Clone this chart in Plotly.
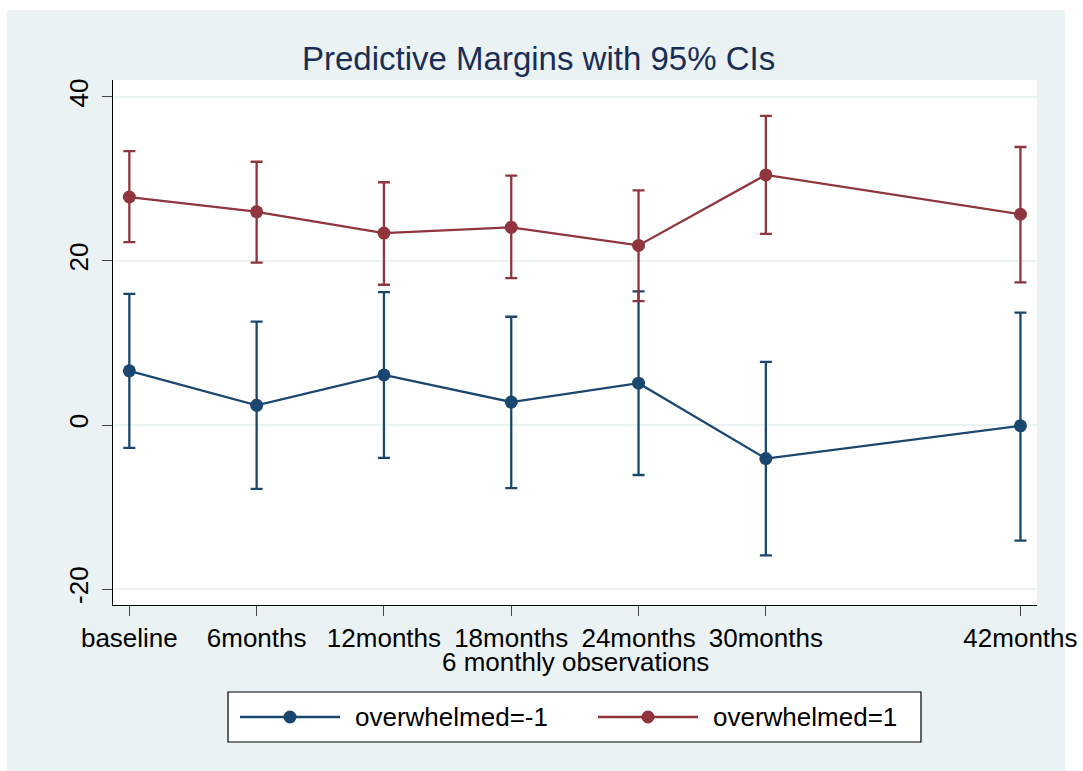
import plotly.graph_objects as go

# Observation times (months) and their tick labels
months = [0, 6, 12, 18, 24, 30, 42]
tick_labels = ["baseline", "6months", "12months", "18months", "24months", "30months", "42months"]

# Predictive margins and 95% confidence limits, overwhelmed = -1
neg_margin = [6.6, 2.4, 6.1, 2.8, 5.1, -4.1, -0.1]
neg_lower = [-2.8, -7.8, -4.0, -7.7, -6.1, -15.9, -14.1]
neg_upper = [16.0, 12.6, 16.2, 13.2, 16.3, 7.7, 13.7]

# Predictive margins and 95% confidence limits, overwhelmed = 1
pos_margin = [27.8, 26.0, 23.4, 24.1, 21.9, 30.5, 25.7]
pos_lower = [22.3, 19.8, 17.1, 17.9, 15.1, 23.3, 17.4]
pos_upper = [33.4, 32.1, 29.6, 30.4, 28.6, 37.7, 33.9]

y_ticks = [-20, 0, 20, 40]
y_tick_labels = ["-20", "0", "20", "40"]

NAVY = "#1a476f"
MAROON = "#90353b"
BLUISH = "#eaf2f3"
FONT = "Liberation Sans, Arial, sans-serif"

W, H = 1083, 771
ML, MR, MT, MB = 113, 46, 80, 166
PW, PH = W - ML - MR, H - MT - MB


def px(x):
    return (x - ML) / PW


def py(y):
    return (H - MB - y) / PH


fig = go.Figure()


def add_series(est, lo, hi, color, name):
    fig.add_trace(go.Scatter(
        x=months, y=est, name=name, mode="lines+markers",
        line=dict(color=color, width=2.3),
        marker=dict(color=color, size=13),
        error_y=dict(type="data", symmetric=False,
                     array=[h - e for h, e in zip(hi, est)],
                     arrayminus=[e - l for e, l in zip(est, lo)],
                     color=color, thickness=2.3, width=6),
        showlegend=False,
    ))


add_series(neg_margin, neg_lower, neg_upper, NAVY, "overwhelmed=-1")
add_series(pos_margin, pos_lower, pos_upper, MAROON, "overwhelmed=1")

shapes = []
# white frame around the graph region
for x0, y0, x1, y1 in [(0, 0, W, 10), (0, 0, 7, H), (1065, 0, W, H)]:
    shapes.append(dict(type="rect", xref="paper", yref="paper", layer="below",
                       x0=px(x0), x1=px(x1), y0=py(y0), y1=py(y1),
                       fillcolor="white", line=dict(width=0)))

# legend box
shapes.append(dict(type="rect", xref="paper", yref="paper",
                   x0=px(228), x1=px(921), y0=py(692), y1=py(742),
                   fillcolor="white", line=dict(color="black", width=1.2)))
annotations = []
for lx, color, label in [(240, NAVY, "overwhelmed=-1"), (598, MAROON, "overwhelmed=1")]:
    shapes.append(dict(type="line", xref="paper", yref="paper",
                       x0=px(lx), x1=px(lx + 100), y0=py(717), y1=py(717),
                       line=dict(color=color, width=2.3)))
    shapes.append(dict(type="circle", xref="paper", yref="paper",
                       xsizemode="pixel", ysizemode="pixel",
                       xanchor=px(lx + 50), yanchor=py(717),
                       x0=-6.5, x1=6.5, y0=-6.5, y1=6.5,
                       fillcolor=color, line=dict(color=color, width=0)))
    annotations.append(dict(xref="paper", yref="paper", x=px(lx + 113), y=py(717),
                            xanchor="left", yanchor="middle", showarrow=False,
                            text=label, font=dict(family=FONT, size=26, color="black")))

# title and x-axis title
annotations.append(dict(xref="paper", yref="paper", x=px(538), y=py(58),
                        xanchor="center", yanchor="middle", showarrow=False,
                        text="Predictive Margins with 95% CIs",
                        font=dict(family=FONT, size=33, color="#1a2e55")))
annotations.append(dict(xref="paper", yref="paper", x=0.5, y=py(662),
                        xanchor="center", yanchor="middle", showarrow=False,
                        text="6 monthly observations",
                        font=dict(family=FONT, size=26, color="black")))

fig.update_layout(
    width=W, height=H,
    margin=dict(l=ML, r=MR, t=MT, b=MB, autoexpand=False),
    paper_bgcolor=BLUISH, plot_bgcolor="white",
    font=dict(family=FONT, size=26, color="black"),
    shapes=shapes, annotations=annotations,
    xaxis=dict(range=[-0.77, 42.78], tickvals=months, ticktext=tick_labels,
               automargin=False,
               showgrid=False, zeroline=False, showline=True, linecolor="black",
               linewidth=1.2, ticks="outside", ticklen=10, tickcolor="#444",
               tickwidth=1.2, tickfont=dict(size=26), ticklabelstandoff=0),
    yaxis=dict(range=[-21.95, 42.07], tickvals=y_ticks, ticktext=y_tick_labels,
               automargin=False, showgrid=True,
               gridcolor=BLUISH, gridwidth=2, zeroline=False, showline=True,
               linecolor="black", linewidth=1.2, ticks="outside", ticklen=10,
               tickcolor="#444", tickwidth=1.2, tickangle=-90,
               tickfont=dict(size=26), ticklabelstandoff=4),
)

fig.write_html("out.html")
